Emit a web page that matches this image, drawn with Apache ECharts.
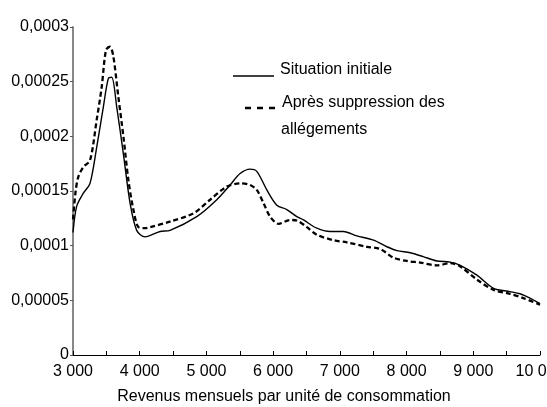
<!DOCTYPE html>
<html><head><meta charset="utf-8">
<script src="https://cdn.jsdelivr.net/npm/echarts@6/dist/echarts.min.js"></script>
<style>html,body{margin:0;padding:0;background:#fff}#c{width:547px;height:407px}</style>
</head><body><div id="c"></div>
<script>
// Tick labels
var xTickLabels = ['3 000','4 000','5 000','6 000','7 000','8 000','9 000','10 000'];
var yTickLabels = ['0','0,00005','0,0001','0,00015','0,0002','0,00025','0,0003'];
var xAxisTitle = 'Revenus mensuels par unité de consommation';
var seriesNames = ['Situation initiale', 'Après suppression des\nallégements'];

// Series 1: Situation initiale
var solidX = [3000,3055,3155,3255,3355,3455,3530,3580,3655,3755,3855,3955,4080,4305,4455,4855,5155,5355,5505,5655,5755,5905,6055,6205,6355,6455,6655,6855,7055,7255,7505,7705,7855,8055,8250,8455,8655,8805,9055,9305,9550,9700,9850,10000];
var solidY = [0.000112,0.000136,0.000148,0.000157,0.000190,0.000227,0.000253,0.000254,0.000227,0.000184,0.000139,0.000114,0.000108,0.000113,0.000114,0.0001265,0.000142,0.0001555,0.000166,0.000170,0.000168,0.000151,0.000137,0.000133,0.0001265,0.0001235,0.000116,0.000113,0.000113,0.000109,0.000105,0.000099,0.0000955,0.0000935,0.000090,0.000086,0.000085,0.000082,0.000073,0.000061,0.000058,0.000056,0.000052,0.000047];

// Series 2: Après suppression des allégements
var dashX = [3000,3040,3080,3155,3255,3355,3430,3495,3555,3605,3680,3755,3830,3905,3980,4080,4155,4455,4805,5055,5305,5505,5655,5755,5855,5955,6080,6255,6355,6505,6655,6905,7105,7405,7605,7805,8005,8205,8455,8655,8805,9055,9305,9550,9750,10000];
var dashY = [0.000124,0.000150,0.000163,0.000172,0.000178,0.000215,0.000245,0.000279,0.000282,0.000273,0.000236,0.000200,0.000160,0.000133,0.000117,0.000116,0.000117,0.000122,0.0001296,0.000142,0.000154,0.000157,0.0001555,0.000151,0.000139,0.0001265,0.000120,0.0001235,0.000123,0.000117,0.000110,0.000105,0.000103,0.000099,0.000097,0.000089,0.000086,0.0000845,0.000082,0.000084,0.000081,0.000069,0.0000595,0.000056,0.000052,0.000046];

function pairs(xs, ys){ return xs.map(function(x,i){ return [x, ys[i]]; }); }

var ff = '"Liberation Sans",Arial,Helvetica,sans-serif';
var chart = echarts.init(document.getElementById('c'), null, {renderer:'canvas'});
chart.setOption({
  animation: false,
  backgroundColor: '#fff',
  grid: {left: 73, right: 7, top: 27, bottom: 52, containLabel: false, outerBoundsMode: 'none'},
  xAxis: {
    type: 'value', min: 3000, max: 10000, interval: 1000,
    name: xAxisTitle, nameLocation: 'middle', nameGap: 34,
    nameTextStyle: {fontFamily: ff, fontSize: 16, color: '#000', padding: [0, 45, 0, 0]},
    axisLine: {show: true, lineStyle: {color: '#000', width: 1}},
    axisTick: {show: true, inside: true, length: 4, lineStyle: {color: '#000'}},
    minorTick: {show: true, splitNumber: 2, length: 4, lineStyle: {color: '#000'}},
    splitLine: {show: false},
    axisLabel: {
      margin: 9, color: '#000', fontFamily: ff, fontSize: 16,
      formatter: function(v){ return xTickLabels[Math.round((v-3000)/1000)]; }
    }
  },
  yAxis: {
    type: 'value', min: 0, max: 0.0003, interval: 0.00005,
    axisLine: {show: true, lineStyle: {color: '#888', width: 2}},
    axisTick: {show: true, length: 3, lineStyle: {color: '#555'}},
    splitLine: {show: false},
    axisLabel: {
      margin: 4, color: '#000', fontFamily: ff, fontSize: 16,
      formatter: function(v){ return yTickLabels[Math.round(v/0.00005)]; }
    }
  },
  series: [
    {name: seriesNames[0], type: 'line', data: pairs(solidX, solidY), showSymbol: false, symbol: 'none', smooth: 0.3,
     lineStyle: {color: '#000', width: 1.4, type: 'solid'}},
    {name: seriesNames[1], type: 'line', data: pairs(dashX, dashY), showSymbol: false, symbol: 'none', smooth: 0.3,
     lineStyle: {color: '#000', width: 2.3, type: [5, 3]}}
  ],
  graphic: [
    {type: 'line', shape: {x1: 233, y1: 76, x2: 274, y2: 76}, style: {stroke: '#000', lineWidth: 1.3}},
    {type: 'text', x: 280, y: 70, style: {text: 'Situation initiale', font: '16px ' + ff, fill: '#000', verticalAlign: 'middle', align: 'left'}},
    {type: 'line', shape: {x1: 245, y1: 108, x2: 276, y2: 108}, style: {stroke: '#000', lineWidth: 2.5, lineDash: [6, 6]}},
    {type: 'text', x: 282, y: 103, style: {text: 'Après suppression des', font: '16px ' + ff, fill: '#000', verticalAlign: 'middle', align: 'left'}},
    {type: 'text', x: 281, y: 130, style: {text: 'allégements', font: '16px ' + ff, fill: '#000', verticalAlign: 'middle', align: 'left'}}
  ]
});
</script>
</body></html>
